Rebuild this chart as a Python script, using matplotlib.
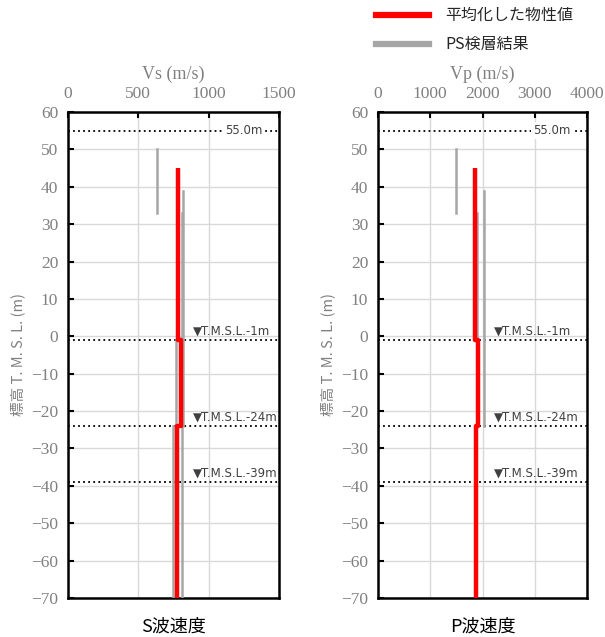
import matplotlib.pyplot as plt
from matplotlib.lines import Line2D

# averaged layer values (top, bottom, velocity)
layer_top = [45, -1, -24]
layer_bot = [-1, -24, -70]
vs_avg = [780, 800, 775]
vp_avg = [1860, 1920, 1870]

# PS logging segments: (top, bottom, velocity)
ps_vs = [
    [(50, 33, 630), (33, -1, 810), (-1, -24, 770), (-24, -70, 745)],
    [(39, -24, 820), (-24, -70, 810)],
]
ps_vp = [
    [(50, 33, 1490), (33, -1, 1900), (-1, -24, 1900), (-24, -70, 1860)],
    [(39, -24, 2020), (-24, -70, 1880)],
]

levels = [55.0, -1, -24, -39]
level_labels = ["55.0m", "▼T.M.S.L.-1m", "▼T.M.S.L.-24m", "▼T.M.S.L.-39m"]

serif = "Liberation Serif"
cjk = ["Noto Sans CJK JP", "DejaVu Sans"]
tick_gray = "#808080"

fig = plt.figure(figsize=(6.05, 6.37), dpi=100)


def draw_panel(rect, avg, ps, xmax, xstep, xlabel, title, label_x):
    ax = fig.add_axes(rect)
    for hole in ps:
        for top, bot, v in hole:
            ax.plot([v, v], [top, bot], color="#a6a6a6", lw=1.8, zorder=3)
    xs, ys = [], []
    for top, bot, v in zip(layer_top, layer_bot, avg):
        xs += [v, v]
        ys += [top, bot]
    ax.plot(xs, ys, color="#ff0000", lw=3.2, zorder=4, solid_capstyle="butt")

    for lev, lab in zip(levels, level_labels):
        ax.axhline(lev, color="black", ls=(0, (1, 1.8)), lw=1.3, zorder=2)
        if lab == "55.0m":
            ax.text(0.92, lev, lab, transform=ax.get_yaxis_transform(),
                    ha="right", va="center", fontsize=8.5, color="#404040",
                    family="DejaVu Sans", zorder=5,
                    bbox=dict(facecolor="white", edgecolor="none", pad=1.5))
        else:
            ax.text(label_x, lev + 0.6, lab, transform=ax.get_yaxis_transform(),
                    ha="left", va="bottom", fontsize=8.5, color="#404040",
                    family="DejaVu Sans", zorder=5)

    ax.set_xlim(0, xmax)
    ax.set_ylim(-70, 60)
    ax.set_xticks(range(0, xmax + 1, xstep))
    ax.set_yticks(range(-70, 61, 10))
    ax.xaxis.tick_top()
    ax.xaxis.set_label_position("top")
    ax.tick_params(direction="in", length=4, width=1.5, colors="black",
                   labelcolor=tick_gray, labelsize=12.5, pad=7)
    for lbl in ax.get_xticklabels() + ax.get_yticklabels():
        lbl.set_family(serif)
    ax.set_xlabel(xlabel, family=serif, color=tick_gray, fontsize=13, labelpad=5)
    ax.set_ylabel("標高 T. M. S. L. (m)", family=cjk, color=tick_gray,
                  fontsize=10.5, labelpad=4)
    ax.grid(True, color="#d9d9d9", lw=1.0, zorder=0)
    ax.set_axisbelow(True)
    for sp in ax.spines.values():
        sp.set_linewidth(1.8)
    cx = rect[0] + rect[2] / 2
    fig.text(cx, 0.017, title, ha="center", va="center", fontsize=13,
             family=cjk, color="black")
    return ax


draw_panel([68 / 605, 1 - 598 / 637, 211 / 605, 486 / 637], vs_avg, ps_vs,
           1500, 500, "Vs (m/s)", "S波速度", 0.59)
draw_panel([378 / 605, 1 - 598 / 637, 209 / 605, 486 / 637], vp_avg, ps_vp,
           4000, 1000, "Vp (m/s)", "P波速度", 0.555)

# legend
fig.add_artist(Line2D([376 / 605, 429 / 605], [1 - 15 / 637] * 2,
                      color="#ff0000", lw=4.5))
fig.add_artist(Line2D([376 / 605, 429 / 605], [1 - 44 / 637] * 2,
                      color="#a6a6a6", lw=4.5))
fig.text(445 / 605, 1 - 15 / 637, "平均化した物性値", ha="left", va="center",
         fontsize=11.5, family=cjk, color="#262626")
fig.text(445 / 605, 1 - 44 / 637, "PS検層結果", ha="left", va="center",
         fontsize=11.5, family=cjk, color="#262626")

fig.savefig("out.png", dpi=100)
